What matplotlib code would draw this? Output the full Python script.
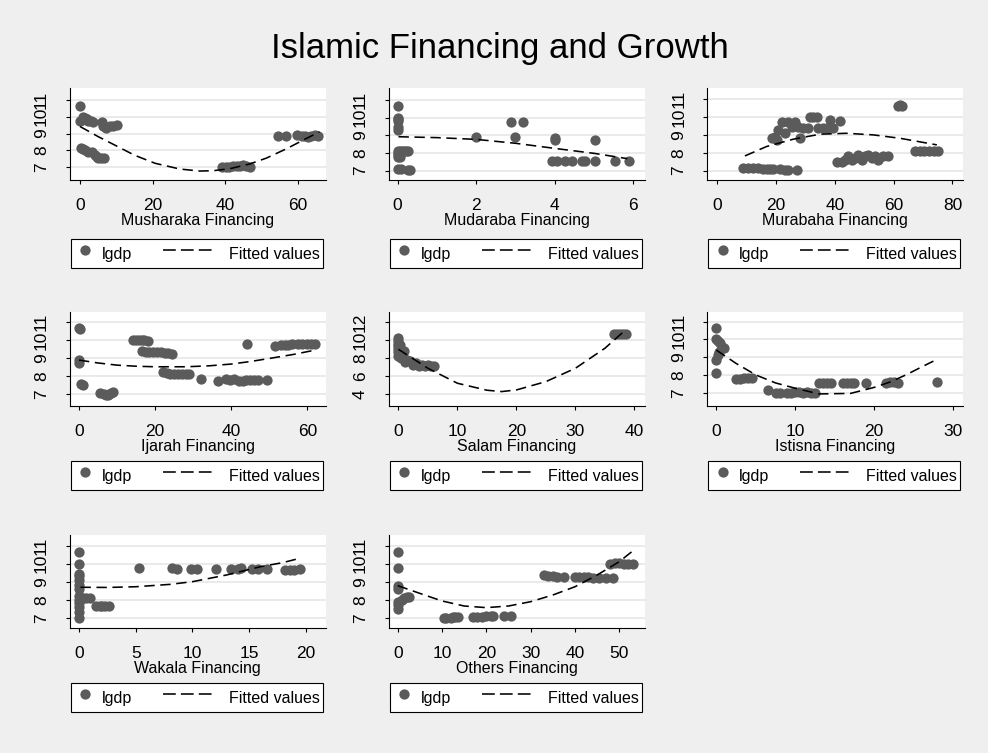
import matplotlib
matplotlib.use("Agg")
import matplotlib.pyplot as plt
from matplotlib.lines import Line2D
from matplotlib.legend_handler import HandlerLine2D

plt.rcParams['font.family'] = ['Liberation Sans', 'DejaVu Sans']

# ---------------- data ----------------
title = "Islamic Financing and Growth"
panel_titles = ["Musharaka Financing", "Mudaraba Financing", "Murabaha Financing",
                "Ijarah Financing", "Salam Financing", "Istisna Financing",
                "Wakala Financing", "Others Financing"]
legend_labels = ["lgdp", "Fitted values"]

musharaka_x = [0.0, 0.0, 0.5, 0.9, 1.4, 1.9, 2.3, 3.0, 3.7, 6.0, 6.4, 7.2, 8.3, 9.2, 10.1,
               0.2, 0.9, 1.5, 2.3, 3.2, 4.0, 4.6, 5.0, 5.8, 6.7,
               39.0, 40.2, 41.2, 42.2, 43.2, 44.2, 45.0, 45.8, 46.8,
               54.6, 56.9, 59.7, 61.1, 62.0, 62.9, 63.8, 64.7, 65.7]
musharaka_y = [10.65, 9.75, 9.8, 10.0, 9.95, 9.85, 9.75, 9.75, 9.7, 9.7, 9.42, 9.35, 9.42, 9.45, 9.5,
               8.13, 8.1, 8.03, 7.93, 7.93, 7.73, 7.6, 7.53, 7.53, 7.53,
               7.0, 7.0, 7.02, 7.05, 7.08, 7.1, 7.15, 7.05, 7.0,
               8.86, 8.86, 8.9, 8.88, 8.85, 8.8, 8.85, 8.9, 8.88]
musharaka_fit_x = [0, 5, 10.2, 15, 20.7, 27.5, 33, 36.7, 41.3, 46.8, 51.4, 56.9, 62.3, 66.0]
musharaka_fit_y = [9.42, 8.82, 8.25, 7.72, 7.24, 6.9, 6.78, 6.8, 6.92, 7.2, 7.55, 8.1, 8.7, 9.1]

mudaraba_x = [0, 0, 0, 0, 0, 0, 0.02, 0.05, 0, 0, 0, 0.05, 0.1, 0.15, 0.2, 0.25, 0.02, 0.08, 0.25, 0.32,
              1.99, 2.89, 3.18, 3.0, 4.0, 4.02, 5.02,
              3.92, 4.05, 4.26, 4.43, 4.69, 4.77, 5.03, 5.53, 5.89]
mudaraba_y = [10.68, 10.0, 9.9, 9.8, 9.45, 9.3, 8.0, 7.8, 7.75, 8.1, 7.9, 8.1, 8.1, 8.1, 8.1, 8.1, 7.12, 7.1, 7.05, 7.05,
              8.89, 9.77, 9.77, 8.89, 8.85, 8.75, 8.74,
              7.55, 7.55, 7.55, 7.55, 7.55, 7.55, 7.55, 7.55, 7.55]
mudaraba_fit_x = [0.02, 1.0, 2.0, 3.0, 4.0, 5.0, 5.85]
mudaraba_fit_y = [8.92, 8.87, 8.77, 8.55, 8.26, 7.98, 7.68]

murabaha_x = [8.9, 10.6, 12.3, 14.0, 15.7, 16.8, 17.9, 19.1, 21.3, 23.0, 24.2, 27.0,
              18.5, 19.6, 20.2, 20.8, 21.9, 23.0, 24.2, 25.3, 26.4, 27.6, 28.1, 29.3, 31.0, 31.5, 32.7,
              33.8, 34.4, 36.1, 37.2, 38.4, 39.5, 41.8,
              40.6, 42.3, 43.5, 44.6, 45.7, 46.9, 48.0, 49.1, 50.3, 51.4, 52.5, 53.7, 54.8, 56.5, 58.2,
              61.5, 62.2, 63.0,
              67.3, 69.0, 70.5, 72.2, 73.9, 75.2]
murabaha_y = [7.13, 7.13, 7.12, 7.12, 7.1, 7.08, 7.08, 7.08, 7.1, 7.05, 7.02, 7.03,
              8.81, 8.9, 8.72, 9.28, 9.75, 9.1, 9.75, 9.47, 9.75, 9.47, 8.81, 9.37, 9.37, 10.03, 10.03,
              10.03, 9.37, 9.37, 9.37, 9.84, 9.37, 9.8,
              7.5, 7.5, 7.6, 7.82, 7.6, 7.7, 7.88, 7.6, 7.79, 7.88, 7.7, 7.82, 7.6, 7.79, 7.82,
              10.64, 10.66, 10.64,
              8.07, 8.07, 8.07, 8.1, 8.1, 8.12]
murabaha_fit_x = [9.4, 16.8, 25.9, 35, 44, 53.1, 62.2, 74.7]
murabaha_fit_y = [7.82, 8.35, 8.76, 9.04, 9.09, 9.0, 8.81, 8.44]

ijarah_x = [0, 0.2, 0, 0, 0.5, 1.0,
            5.5, 6.5, 7.0, 7.5, 8.0, 8.5, 9.0,
            14.3, 15.0, 15.7, 16.5, 17.2, 18.0,
            16.5, 17.5, 18.5, 19.5, 20.5, 21.5, 22.5, 23.5, 24.5,
            22.2, 23.0, 24.0, 25.0, 26.0, 27.0, 28.0, 29.0,
            32.0, 36.4, 38.6, 39.6, 40.8,
            44.1,
            42.0, 43.0, 44.0, 45.0, 46.0, 47.0, 49.5,
            51.5, 53.0, 54.0, 55.0, 56.0, 57.5, 58.5, 60.0, 61.0, 62.0]
ijarah_y = [10.63, 10.6, 8.88, 8.7, 7.55, 7.5,
            7.05, 7.0, 6.95, 6.95, 7.0, 7.05, 7.1,
            10.0, 10.0, 10.0, 10.0, 10.0, 9.95,
            9.4, 9.35, 9.3, 9.3, 9.3, 9.3, 9.25, 9.25, 9.2,
            8.2, 8.15, 8.1, 8.1, 8.1, 8.1, 8.1, 8.12,
            7.83, 7.74, 7.83, 7.8, 7.85,
            9.75,
            7.75, 7.75, 7.8, 7.8, 7.8, 7.8, 7.8,
            9.65, 9.7, 9.72, 9.72, 9.75, 9.75, 9.75, 9.75, 9.75, 9.75]
ijarah_fit_x = [0, 5, 10, 15, 20, 28, 34, 40, 45, 50, 56, 62]
ijarah_fit_y = [8.88, 8.72, 8.6, 8.54, 8.51, 8.51, 8.56, 8.66, 8.8, 8.97, 9.18, 9.43]

salam_x = [0, 0, 0, 0, 0, 0, 0,
           0.2, 0.3, 0.5, 0.8, 1.0, 1.2, 1.5, 2.0, 2.5, 3.0, 3.5, 4.0, 4.5, 5.0, 5.5, 6.0,
           36.5, 37.0, 37.5, 38.0, 38.5]
salam_y = [10.2, 9.9, 9.6, 9.3, 9.0, 8.7, 8.2,
           9.5, 8.5, 8.0, 8.1, 8.8, 7.6, 7.8, 7.7, 7.2, 7.5, 7.1, 7.2, 7.1, 7.2, 7.1, 7.1,
           10.7, 10.7, 10.7, 10.7, 10.7]
salam_fit_x = [0, 5, 10, 15, 17.5, 20, 25, 30, 35, 38.5]
salam_fit_y = [8.99, 6.87, 5.2, 4.42, 4.27, 4.45, 5.38, 6.87, 9.1, 11.15]

istisna_x = [0, 0, 0.2, 0.5, 0.7, 1.0, 0.3, 0.2, 0, 0,
             2.5, 3.0, 3.5, 4.0, 4.5,
             6.5, 7.5, 8.0, 9.0, 9.5, 10.0, 10.5, 11.0, 11.5, 12.0, 12.5,
             13.0, 13.5, 14.0, 14.5,
             16.0, 16.5, 17.0, 17.5,
             19.0, 21.5, 22.0, 22.5, 23.0,
             27.9]
istisna_y = [10.62, 10.0, 9.9, 9.8, 9.6, 9.5, 9.3, 9.1, 8.84, 8.13,
             7.8, 7.8, 7.85, 7.85, 7.85,
             7.15, 7.0, 7.0, 7.0, 7.0, 7.05, 7.05, 7.0, 7.05, 7.0, 7.0,
             7.55, 7.55, 7.55, 7.55,
             7.55, 7.55, 7.55, 7.55,
             7.55, 7.55, 7.6, 7.6, 7.55,
             7.62]
istisna_fit_x = [0, 2.5, 5, 7.5, 10, 13, 17, 20, 22, 24, 26, 27.5]
istisna_fit_y = [9.4, 8.65, 8.0, 7.55, 7.25, 6.93, 6.96, 7.3, 7.6, 8.0, 8.45, 8.78]

wakala_x = [0, 0, 0, 0, 0, 0, 0, 0, 0, 0, 0, 0, 0,
            0.3, 0.6, 0.9,
            1.5, 1.8, 2.0, 2.3, 2.6,
            5.3,
            8.2, 8.6, 9.9, 10.4, 12.1, 13.4, 14.0, 14.3, 15.3, 15.8, 16.6, 18.2, 18.6, 19.0, 19.5]
wakala_y = [10.65, 10.0, 9.4, 9.3, 9.1, 8.8, 8.6, 8.2, 8.0, 7.8, 7.6, 7.3, 7.0,
            8.1, 8.1, 8.1,
            7.65, 7.65, 7.65, 7.65, 7.65,
            9.78,
            9.75, 9.7, 9.7, 9.7, 9.7, 9.7, 9.7, 9.75, 9.7, 9.7, 9.7, 9.65, 9.65, 9.65, 9.7]
wakala_fit_x = [0.1, 2.5, 5, 8, 10, 13, 16, 18, 19.5]
wakala_fit_y = [8.69, 8.68, 8.72, 8.85, 9.0, 9.37, 9.83, 10.06, 10.3]

others_x = [0, 0, 0, 0, 0, 0, 0, 1.0, 1.5, 2.0, 2.5,
            10.5, 11.0, 12.0, 12.5, 13.0, 13.5,
            17.0, 18.0, 19.0, 20.0, 21.0, 21.5, 24.0, 25.5,
            33.0, 34.0, 35.0, 36.0, 37.5,
            40.0, 41.0, 42.0, 43.0, 44.0, 45.5, 47.0, 48.5,
            48.0, 49.0, 50.0, 51.0, 52.0, 53.0]
others_y = [10.65, 9.75, 8.75, 8.6, 7.9, 7.7, 7.5, 8.0, 8.1, 8.15, 8.15,
            7.0, 7.0, 7.0, 7.05, 7.05, 7.05,
            7.05, 7.05, 7.05, 7.1, 7.1, 7.1, 7.1, 7.1,
            9.35, 9.3, 9.3, 9.25, 9.25,
            9.25, 9.25, 9.25, 9.25, 9.2, 9.2, 9.2, 9.2,
            10.0, 10.05, 10.05, 10.0, 10.0, 10.0]
others_fit_x = [0, 5, 10, 15, 20, 25, 30, 35, 40, 45, 50, 53]
others_fit_y = [8.78, 8.35, 7.93, 7.65, 7.56, 7.65, 7.89, 8.26, 8.72, 9.37, 10.11, 10.7]

xticks_list = [[0, 20, 40, 60], [0, 2, 4, 6], [0, 20, 40, 60, 80],
               [0, 20, 40, 60], [0, 10, 20, 30, 40], [0, 10, 20, 30],
               [0, 5, 10, 15, 20], [0, 10, 20, 30, 40, 50]]
yticks_list = [[7, 8, 9, 10, 11]] * 4 + [[4, 6, 8, 10, 12]] + [[7, 8, 9, 10, 11]] * 3

# ---------------- layout (pixels) ----------------
W, H = 988, 753
col_lr = [(69.5, 326), (388.5, 645), (707, 963)]
row_tb = [(88, 180), (312, 406), (535, 628)]
legend_rows = [239, 461, 683]
xlims = [(-2.9, 67.8), (-0.234, 6.30), (-3.5, 83.6), (-2.5, 64.9),
         (-1.68, 41.8), (-1.19, 31.25), (-0.87, 21.8), (-2.08, 55.8)]
ylims = [(6.25, 11.7), (6.47, 11.68), (6.47, 11.63), (6.34, 11.54),
         (2.66, 13.15), (6.25, 11.55), (6.43, 11.59), (6.43, 11.59)]

series = [(musharaka_x, musharaka_y, musharaka_fit_x, musharaka_fit_y),
          (mudaraba_x, mudaraba_y, mudaraba_fit_x, mudaraba_fit_y),
          (murabaha_x, murabaha_y, murabaha_fit_x, murabaha_fit_y),
          (ijarah_x, ijarah_y, ijarah_fit_x, ijarah_fit_y),
          (salam_x, salam_y, salam_fit_x, salam_fit_y),
          (istisna_x, istisna_y, istisna_fit_x, istisna_fit_y),
          (wakala_x, wakala_y, wakala_fit_x, wakala_fit_y),
          (others_x, others_y, others_fit_x, others_fit_y)]

BG = '#efefef'
MARK = '#5b5b5b'
GRID = '#e6e6e6'
TICK_FS = 12.5
LAB_FS = 11.5


class LeftExtendedLine(HandlerLine2D):
    """Dashed legend key that extends to the left of its handle box."""
    def __init__(self, left=2.4, right=0.8, **kw):
        super().__init__(**kw)
        self.left = left
        self.right = right

    def create_artists(self, legend, orig_handle, xdescent, ydescent,
                       width, height, fontsize, trans):
        y = (height - ydescent) / 2
        line = Line2D([-xdescent - self.left * fontsize, -xdescent + self.right * fontsize], [y, y])
        self.update_prop(line, orig_handle, legend)
        line.set_marker('None')
        line.set_transform(trans)
        return [line]


fig = plt.figure(figsize=(W / 100, H / 100), dpi=100, facecolor=BG)

fig.text(500 / W, 1 - 58 / H, title, ha='center', va='baseline', fontsize=25, color='black')

for i, (xs, ys, fx, fy) in enumerate(series):
    r, c = divmod(i, 3)
    l, rr = col_lr[c]
    t, b = row_tb[r]
    ax = fig.add_axes([l / W, 1 - b / H, (rr - l) / W, (b - t) / H])
    ax.set_facecolor('white')
    for s in ['top', 'right']:
        ax.spines[s].set_visible(False)
    for s in ['left', 'bottom']:
        ax.spines[s].set_linewidth(0.8)
        ax.spines[s].set_color('black')
    ax.set_axisbelow(True)
    ax.yaxis.grid(True, color=GRID, linewidth=1.2)
    ax.xaxis.grid(False)

    ax.plot(xs, ys, 'o', linestyle='none', color=MARK, markersize=7.4,
            markeredgewidth=0, zorder=3)
    ax.plot(fx, fy, color='black', linewidth=1.15, dashes=(6.5, 3.5), zorder=4)

    ax.set_xlim(*xlims[i])
    ax.set_ylim(*ylims[i])
    ax.set_xticks(xticks_list[i])
    ax.set_yticks(yticks_list[i])
    ax.set_xticklabels([str(v) for v in xticks_list[i]])
    ax.set_yticklabels([str(v) for v in yticks_list[i]], rotation=90, va='center')
    ax.tick_params(axis='x', direction='out', length=3.2, width=0.8, pad=9.5, labelsize=TICK_FS)
    ax.tick_params(axis='y', direction='out', length=3.2, width=0.8, pad=11.5, labelsize=TICK_FS)

    ax.set_xlabel(panel_titles[i], fontsize=LAB_FS)
    ax.xaxis.label.set_va('baseline')
    ax.xaxis.set_label_coords(0.5, -44.5 / (b - t))

    h_pts = Line2D([], [], linestyle='none', marker='o', color=MARK,
                   markersize=7.4, markeredgewidth=0)
    h_fit = Line2D([], [], color='black', linewidth=1.15, dashes=(8, 3.2))
    leg = ax.legend([h_pts, h_fit], legend_labels, ncol=2, loc='upper left',
                    bbox_to_anchor=((l + 1) / W, 1 - legend_rows[r] / H),
                    bbox_transform=fig.transFigure, borderaxespad=0,
                    fontsize=LAB_FS, frameon=True, fancybox=False, framealpha=1,
                    facecolor='white', edgecolor='black', numpoints=1,
                    borderpad=0.21, handlelength=1.45, handleheight=1.75,
                    handletextpad=0.28, columnspacing=4.33,
                    handler_map={h_fit: LeftExtendedLine(left=2.4, right=0.8)})
    leg.get_frame().set_linewidth(0.8)

fig.savefig('out.png', dpi=100, facecolor=BG)
